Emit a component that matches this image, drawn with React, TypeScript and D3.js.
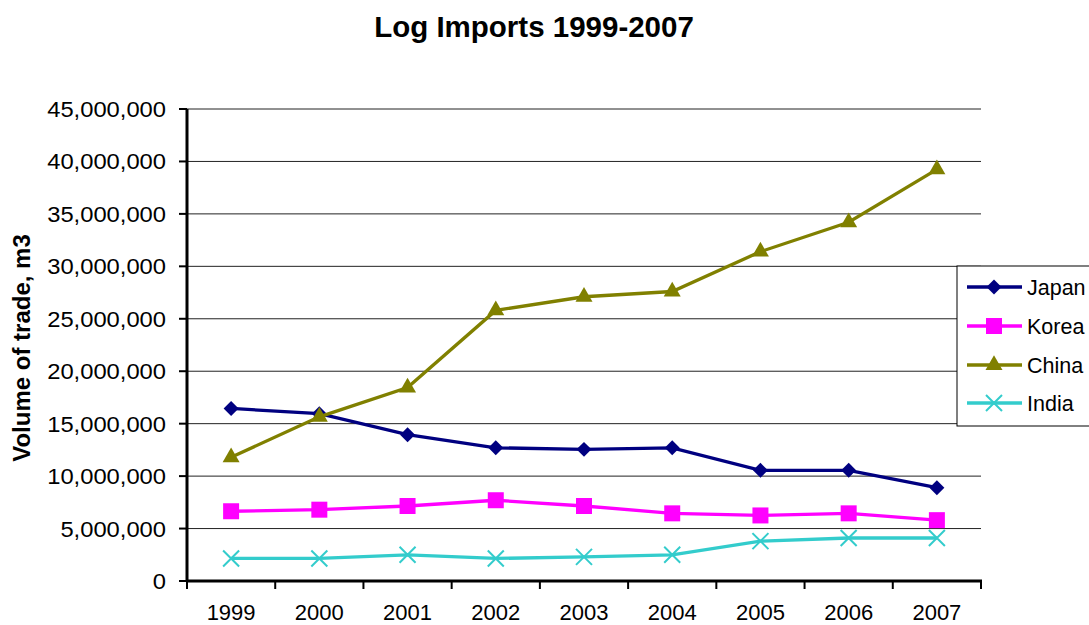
import React from "react";
import * as d3 from "d3";

const years = ["1999", "2000", "2001", "2002", "2003", "2004", "2005", "2006", "2007"];
const japan = [16.45e6, 15.95e6, 13.95e6, 12.7e6, 12.55e6, 12.7e6, 10.55e6, 10.55e6, 8.9e6];
const korea = [6.65e6, 6.8e6, 7.15e6, 7.7e6, 7.15e6, 6.45e6, 6.25e6, 6.45e6, 5.8e6];
const china = [11.8e6, 15.65e6, 18.45e6, 25.8e6, 27.1e6, 27.6e6, 31.4e6, 34.2e6, 39.25e6];
const india = [2.15e6, 2.15e6, 2.5e6, 2.15e6, 2.3e6, 2.5e6, 3.8e6, 4.1e6, 4.1e6];
const yTicks = [0, 5e6, 10e6, 15e6, 20e6, 25e6, 30e6, 35e6, 40e6, 45e6];

type Marker = "diamond" | "square" | "triangle" | "x";
const series: { name: string; values: number[]; color: string; marker: Marker }[] = [
  { name: "Japan", values: japan, color: "#000080", marker: "diamond" },
  { name: "Korea", values: korea, color: "#FF00FF", marker: "square" },
  { name: "China", values: china, color: "#808000", marker: "triangle" },
  { name: "India", values: india, color: "#33CCCC", marker: "x" },
];

const W = 1089;
const H = 625;
const FONT = "'Liberation Sans', Arial, sans-serif";

const x = d3.scaleBand<string>().domain(years).range([187, 981]);
const y = d3.scaleLinear().domain([0, 45e6]).range([581, 109]);
const fmt = d3.format(",");

function markerPath(m: Marker): string {
  if (m === "diamond") return d3.symbol(d3.symbolSquare, 112)()!;
  if (m === "square") return d3.symbol(d3.symbolSquare, 256)()!;
  if (m === "triangle") return d3.symbol(d3.symbolTriangle, 125)()!;
  const p = d3.path();
  p.moveTo(-8, -8);
  p.lineTo(8, 8);
  p.moveTo(-8, 8);
  p.lineTo(8, -8);
  return p.toString();
}

function MarkerShape({ m, color, cx, cy }: { m: Marker; color: string; cx: number; cy: number }) {
  const d = markerPath(m);
  if (m === "x") {
    return <path d={d} transform={`translate(${cx},${cy})`} fill="none" stroke={color} strokeWidth={2} />;
  }
  const rot = m === "diamond" ? " rotate(45)" : "";
  return <path d={d} transform={`translate(${cx},${cy})${rot}`} fill={color} />;
}

export default function App() {
  const cx = (yr: string) => (x(yr) ?? 0) + x.bandwidth() / 2;
  const line = d3
    .line<number>()
    .x((_, i) => cx(years[i]))
    .y((v) => y(v));

  const legendY = [287, 326, 365, 403];

  return (
    <svg
      width={W}
      height={H}
      style={{ position: "absolute", left: 0, top: 0, background: "#fff" }}
      fontFamily={FONT}
    >
      <rect x={0} y={0} width={W} height={H} fill="#fff" />
      <text x={534} y={37} textAnchor="middle" fontSize={29.5} fontWeight="bold" fill="#000">
        Log Imports 1999-2007
      </text>

      {/* horizontal gridlines */}
      {yTicks.slice(1).map((t) => (
        <line key={t} x1={187} x2={981} y1={y(t)} y2={y(t)} stroke="#222" strokeWidth={1} />
      ))}

      {/* y axis */}
      <line x1={187} x2={187} y1={y(45e6)} y2={y(0)} stroke="#000" strokeWidth={3} />
      {yTicks.map((t) => (
        <g key={t}>
          <line x1={179} x2={187} y1={y(t)} y2={y(t)} stroke="#000" strokeWidth={2} />
          <text
            transform={`translate(166,${y(t) + 8}) scale(1.08,1)`}
            textAnchor="end"
            fontSize={22}
            fill="#000"
          >
            {fmt(t)}
          </text>
        </g>
      ))}
      <text
        transform={`translate(30,${348}) rotate(-90)`}
        textAnchor="middle"
        fontSize={24}
        fontWeight="bold"
        fill="#000"
      >
        Volume of trade, m3
      </text>

      {/* x axis */}
      <line x1={186} x2={982} y1={y(0)} y2={y(0)} stroke="#000" strokeWidth={3} />
      {[...years.map((yr) => x(yr) ?? 0), 981].map((px, i) => (
        <line key={i} x1={px} x2={px} y1={y(0)} y2={y(0) + 8} stroke="#000" strokeWidth={2} />
      ))}
      {years.map((yr) => (
        <text key={yr} x={cx(yr)} y={620} textAnchor="middle" fontSize={22} fill="#000">
          {yr}
        </text>
      ))}

      {/* series */}
      {series.map((s) => (
        <g key={s.name}>
          <path d={line(s.values)!} fill="none" stroke={s.color} strokeWidth={3.3} />
          {s.values.map((v, i) => (
            <MarkerShape key={i} m={s.marker} color={s.color} cx={cx(years[i])} cy={y(v)} />
          ))}
        </g>
      ))}

      {/* legend */}
      <rect x={957} y={266} width={140} height={160} fill="#fff" stroke="#000" strokeWidth={1} />
      {series.map((s, i) => (
        <g key={s.name}>
          <line x1={967} x2={1022} y1={legendY[i]} y2={legendY[i]} stroke={s.color} strokeWidth={3.3} />
          <MarkerShape m={s.marker} color={s.color} cx={994} cy={legendY[i]} />
          <text x={1027} y={legendY[i] + 8} fontSize={21.5} fill="#000">
            {s.name}
          </text>
        </g>
      ))}
    </svg>
  );
}
